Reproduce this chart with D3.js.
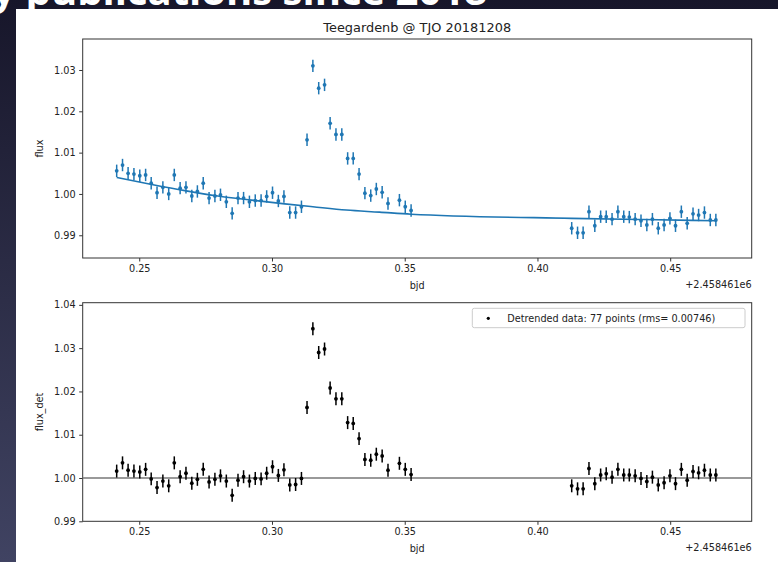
<!DOCTYPE html>
<html>
<head>
<meta charset="utf-8">
<script src="https://cdn.jsdelivr.net/npm/d3@7"></script>
<style>
  body { margin: 0; background: #1b1a2e; }
  svg { display: block; }
</style>
</head>
<body>
<div id="chart"></div>
<script>
// bjd - 2458461
const bjd = [
  0.2415, 0.2437, 0.2458, 0.2480, 0.2502, 0.2524, 0.2545, 0.2567, 0.2589, 0.2611,
  0.2632, 0.2654, 0.2676, 0.2698, 0.2719, 0.2741, 0.2763, 0.2785, 0.2806, 0.2828,
  0.2850, 0.2872, 0.2893, 0.2915, 0.2937, 0.2959, 0.2980, 0.3002, 0.3024, 0.3045,
  0.3067, 0.3089, 0.3111, 0.3132, 0.3154, 0.3176, 0.3198, 0.3219, 0.3241, 0.3263,
  0.3285, 0.3306, 0.3328, 0.3350, 0.3372, 0.3393, 0.3415, 0.3437, 0.3480, 0.3502,
  0.3524,
  0.4129, 0.4151, 0.4172, 0.4194, 0.4216, 0.4238, 0.4259, 0.4281, 0.4303, 0.4325,
  0.4346, 0.4368, 0.4390, 0.4412, 0.4433, 0.4455, 0.4477, 0.4499, 0.4520, 0.4542,
  0.4564, 0.4586, 0.4607, 0.4629, 0.4651, 0.4672
];

const flux = [
  1.0056, 1.0070, 1.0050, 1.0048, 1.0044, 1.0046, 1.0026, 1.0003, 1.0016, 1.0000,
  1.0046, 1.0014, 1.0016, 0.9995, 1.0006, 1.0026, 0.9990, 0.9995, 0.9998, 0.9981,
  0.9953, 0.9990, 0.9990, 0.9981, 0.9984, 0.9984, 0.9994, 1.0003, 0.9983, 0.9994,
  0.9955, 0.9955, 0.9969, 1.0131, 1.0310, 1.0256, 1.0264, 1.0171, 1.0144, 1.0144,
  1.0086, 1.0086, 1.0048, 1.0002, 0.9996, 1.0012, 1.0004, 0.9977, 0.9985, 0.9969,
  0.9960,
  0.9917, 0.9906, 0.9906, 0.9957, 0.9923, 0.9945, 0.9945, 0.9939, 0.9957, 0.9945,
  0.9944, 0.9939, 0.9935, 0.9925, 0.9939, 0.9917, 0.9925, 0.9941, 0.9923, 0.9957,
  0.9929, 0.9952, 0.9949, 0.9955, 0.9937, 0.9937
];

const fluxDet = [
  1.0016, 1.0035, 1.0018, 1.0016, 1.0014, 1.0020, 0.9998, 0.9978, 0.9993, 0.9982,
  1.0035, 1.0003, 1.0011, 0.9988, 0.9997, 1.0020, 0.9991, 0.9997, 1.0005, 0.9993,
  0.9960, 0.9995, 1.0003, 0.9993, 0.9999, 0.9998, 1.0011, 1.0026, 1.0006, 1.0019,
  0.9984, 0.9985, 0.9999, 1.0163, 1.0345, 1.0290, 1.0298, 1.0208, 1.0183, 1.0183,
  1.0128, 1.0126, 1.0091, 1.0043, 1.0041, 1.0055, 1.0051, 1.0018, 1.0034, 1.0020,
  1.0008,
  0.9982, 0.9975, 0.9975, 1.0022, 0.9987, 1.0007, 1.0010, 1.0002, 1.0020, 1.0007,
  1.0007, 1.0005, 0.9999, 0.9992, 1.0002, 0.9984, 0.9989, 1.0005, 0.9987, 1.0020,
  0.9995, 1.0015, 1.0012, 1.0018, 1.0007, 1.0007
];

const fluxErr = 0.0015;

// fitted trend, read at a few places along the curve
const trendBjd  = [0.2415, 0.2547, 0.2672, 0.2796, 0.2923, 0.3048, 0.3154, 0.3280, 0.3405, 0.3524, 0.4129, 0.4400, 0.4672];
const trendFlux = [1.0040, 1.0023, 1.0008, 0.9995, 0.9985, 0.9976, 0.9969, 0.9961, 0.9956, 0.9951, 0.9941, 0.9938, 0.9935];

const xTicks = [0.25, 0.30, 0.35, 0.40, 0.45];
const yTicksTop = [0.99, 1.00, 1.01, 1.02, 1.03];
const yTicksBot = [0.99, 1.00, 1.01, 1.02, 1.03, 1.04];

const width = 778;
const height = 562;
const font = 'DejaVu Sans, sans-serif';
const blue = '#1f77b4';

const svg = d3.select('#chart')
  .append('svg')
  .attr('width', width)
  .attr('height', height);

// slide background
const grad = svg.append('defs').append('linearGradient')
  .attr('id', 'bg').attr('x1', 0).attr('y1', 0).attr('x2', 0).attr('y2', 1);
grad.append('stop').attr('offset', '0%').attr('stop-color', '#17162a');
grad.append('stop').attr('offset', '100%').attr('stop-color', '#404362');
svg.append('rect').attr('width', width).attr('height', height).attr('fill', 'url(#bg)');

svg.append('text')
  .attr('x', 487).attr('y', 5)
  .attr('text-anchor', 'end')
  .attr('font-family', 'Open Sans, sans-serif')
  .attr('font-weight', 'bold')
  .attr('font-size', 40)
  .attr('fill', '#fff')
  .text('Key publications since 2018');

svg.append('rect').attr('x', 16).attr('y', 9).attr('width', width - 16).attr('height', height - 9).attr('fill', '#fff');

const x = d3.scaleLinear().domain([0.2287, 0.4807]).range([82.7, 751.7]);

function panel(top, bottom, yDomain, yTicks, ylabel) {
  const y = d3.scaleLinear().domain(yDomain).range([bottom, top]);
  const g = svg.append('g');

  const xa = g.append('g')
    .attr('transform', `translate(0,${bottom})`)
    .call(d3.axisBottom(x).tickValues(xTicks).tickFormat(d3.format('.2f')).tickSize(3.5).tickPadding(3.5));
  const ya = g.append('g')
    .attr('transform', `translate(${x.range()[0]},0)`)
    .call(d3.axisLeft(y).tickValues(yTicks).tickFormat(d3.format('.2f')).tickSize(3.5).tickPadding(3.5));
  [xa, ya].forEach(a => {
    a.select('.domain').remove();
    a.selectAll('line').attr('stroke', '#333');
    a.selectAll('text').attr('font-family', font).attr('font-size', 9.7).attr('fill', '#222');
  });

  g.append('rect')
    .attr('x', x.range()[0]).attr('y', top)
    .attr('width', x.range()[1] - x.range()[0]).attr('height', bottom - top)
    .attr('fill', 'none').attr('stroke', '#333').attr('stroke-width', 1);

  g.append('text')
    .attr('x', (x.range()[0] + x.range()[1]) / 2).attr('y', bottom + 30.5)
    .attr('text-anchor', 'middle')
    .attr('font-family', font).attr('font-size', 9.7).attr('fill', '#222')
    .text('bjd');
  g.append('text')
    .attr('x', x.range()[1]).attr('y', bottom + 30)
    .attr('text-anchor', 'end')
    .attr('font-family', font).attr('font-size', 9.7).attr('fill', '#222')
    .text('+2.458461e6');
  g.append('text')
    .attr('transform', `translate(43,${(top + bottom) / 2}) rotate(-90)`)
    .attr('text-anchor', 'middle')
    .attr('font-family', font).attr('font-size', 9.7).attr('fill', '#222')
    .text(ylabel);
  return { g, y };
}

function errorPoints(g, y, values, color) {
  const pts = g.append('g');
  pts.selectAll('line')
    .data(values)
    .join('line')
      .attr('x1', (d, i) => x(bjd[i]))
      .attr('x2', (d, i) => x(bjd[i]))
      .attr('y1', d => y(d - fluxErr))
      .attr('y2', d => y(d + fluxErr))
      .attr('stroke', color)
      .attr('stroke-width', 1.5);
  pts.selectAll('circle')
    .data(values)
    .join('circle')
      .attr('cx', (d, i) => x(bjd[i]))
      .attr('cy', d => y(d))
      .attr('r', 1.9)
      .attr('fill', color);
}

// top panel: raw flux + trend
const p1 = panel(39, 258, [0.9845, 1.0375], yTicksTop, 'flux');
p1.g.append('path')
  .datum(trendBjd.map((t, i) => [t, trendFlux[i]]))
  .attr('fill', 'none')
  .attr('stroke', blue)
  .attr('stroke-width', 1.6)
  .attr('d', d3.line().x(d => x(d[0])).y(d => p1.y(d[1])).curve(d3.curveMonotoneX));
errorPoints(p1.g, p1.y, flux, blue);

svg.append('text')
  .attr('x', (x.range()[0] + x.range()[1]) / 2).attr('y', 31.5)
  .attr('text-anchor', 'middle')
  .attr('font-family', font).attr('font-size', 12.9).attr('fill', '#222')
  .text('Teegardenb @ TJO 20181208');

// bottom panel: detrended
const p2 = panel(302.7, 521.3, [0.99, 1.0405], yTicksBot, 'flux_det');
p2.g.append('line')
  .attr('x1', x.range()[0]).attr('x2', x.range()[1])
  .attr('y1', p2.y(1)).attr('y2', p2.y(1))
  .attr('stroke', '#777').attr('stroke-width', 1.5);
errorPoints(p2.g, p2.y, fluxDet, '#000');

const leg = p2.g.append('g');
leg.append('rect')
  .attr('x', 472.3).attr('y', 308.3).attr('width', 272.7).attr('height', 19.4)
  .attr('rx', 2).attr('fill', '#fff').attr('stroke', '#ccc');
leg.append('circle').attr('cx', 488.3).attr('cy', 318.3).attr('r', 1.6).attr('fill', '#000');
leg.append('text')
  .attr('x', 507.3).attr('y', 321.8)
  .attr('font-family', font).attr('font-size', 9.7).attr('fill', '#222')
  .text('Detrended data: 77 points (rms= 0.00746)');
</script>
</body>
</html>
